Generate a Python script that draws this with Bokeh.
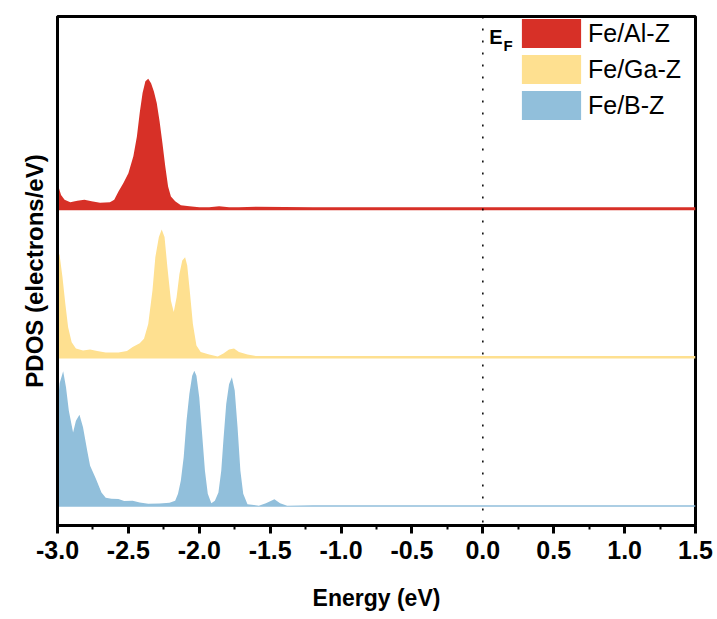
import numpy as np
from bokeh.plotting import figure
from bokeh.models import (Range1d, FixedTicker, NumeralTickFormatter, Span, Legend,
                          LegendItem, Label, ColumnDataSource)
from bokeh.embed import file_html
from bokeh.resources import INLINE

# ---- data ----
SERIES = ["Fe/Al-Z", "Fe/Ga-Z", "Fe/B-Z"]

AL_E = [-3.00, -2.99, -2.975, -2.95, -2.91, -2.86, -2.81, -2.76, -2.70, -2.63, -2.60, -2.57,
        -2.535, -2.50, -2.465, -2.44, -2.42, -2.40, -2.38, -2.36, -2.34, -2.32, -2.30, -2.28,
        -2.26, -2.24, -2.22, -2.20, -2.17, -2.13, -2.07, -2.00, -1.93, -1.86, -1.79, -1.72,
        -1.60, -1.2, -0.6, 0.0, 0.5, 1.0, 1.5]
AL_V = [0.58, 0.45, 0.31, 0.21, 0.16, 0.19, 0.21, 0.18, 0.15, 0.16, 0.21, 0.38,
        0.55, 0.75, 1.09, 1.49, 1.97, 2.37, 2.61, 2.66, 2.57, 2.40, 2.17, 1.80,
        1.36, 0.89, 0.48, 0.28, 0.18, 0.10, 0.08, 0.06, 0.06, 0.08, 0.06, 0.06,
        0.07, 0.06, 0.06, 0.06, 0.06, 0.06, 0.06]

GA_E = [-3.00, -2.985, -2.965, -2.945, -2.925, -2.90, -2.87, -2.82, -2.77, -2.72, -2.66, -2.57,
        -2.51, -2.47, -2.42, -2.39, -2.36, -2.33, -2.31, -2.285, -2.265, -2.245, -2.225, -2.20,
        -2.18, -2.16, -2.14, -2.12, -2.10, -2.085, -2.065, -2.045, -2.02, -1.99, -1.93, -1.87,
        -1.83, -1.79, -1.755, -1.72, -1.66, -1.60, -1.2, -0.6, 0.0, 0.5, 1.0, 1.5]
GA_V = [2.19, 2.09, 1.65, 1.11, 0.63, 0.33, 0.20, 0.16, 0.18, 0.15, 0.12, 0.12,
        0.15, 0.23, 0.31, 0.40, 0.70, 1.38, 2.05, 2.46, 2.61, 2.46, 1.85, 1.17,
        0.94, 1.24, 1.71, 1.98, 2.05, 1.88, 1.31, 0.70, 0.26, 0.13, 0.08, 0.04,
        0.10, 0.18, 0.20, 0.13, 0.08, 0.05, 0.05, 0.05, 0.05, 0.05, 0.05, 0.05]

B_E = [-3.00, -2.985, -2.96, -2.94, -2.92, -2.89, -2.87, -2.845, -2.82, -2.79, -2.77, -2.73,
       -2.69, -2.66, -2.62, -2.57, -2.53, -2.47, -2.42, -2.36, -2.28, -2.21, -2.17, -2.15,
       -2.13, -2.11, -2.09, -2.07, -2.05, -2.035, -2.02, -2.00, -1.98, -1.96, -1.94, -1.915,
       -1.89, -1.865, -1.845, -1.83, -1.81, -1.79, -1.77, -1.75, -1.73, -1.71, -1.69, -1.66,
       -1.58, -1.53, -1.47, -1.43, -1.38, -1.2, -0.8, -0.4, 0.0, 0.5, 1.0, 1.5]
B_V = [2.0, 2.5, 2.74, 2.42, 1.94, 1.50, 1.74, 1.86, 1.61, 1.13, 0.83, 0.57,
       0.29, 0.18, 0.16, 0.155, 0.115, 0.12, 0.087, 0.06, 0.067, 0.08, 0.12, 0.26,
       0.53, 1.0, 1.74, 2.28, 2.65, 2.75, 2.65, 2.21, 1.47, 0.73, 0.26, 0.07,
       0.12, 0.29, 0.73, 1.34, 2.08, 2.48, 2.62, 2.35, 1.61, 0.73, 0.26, 0.05,
       0.02, 0.07, 0.15, 0.07, 0.02, 0.03, 0.03, 0.03, 0.03, 0.03, 0.03, 0.03]

X_TICKS = [-3.0, -2.5, -2.0, -1.5, -1.0, -0.5, 0.0, 0.5, 1.0, 1.5]
X_MINOR = [-2.75, -2.25, -1.75, -1.25, -0.75, -0.25, 0.25, 0.75, 1.25]

# ---- styling / layout ----
OFFSETS = {"Fe/Al-Z": 6.0, "Fe/Ga-Z": 3.0, "Fe/B-Z": 0.0}
COLORS = {"Fe/Al-Z": "#d73027", "Fe/Ga-Z": "#fee090", "Fe/B-Z": "#91bfdb"}
DATA = {"Fe/Al-Z": (AL_E, AL_V), "Fe/Ga-Z": (GA_E, GA_V), "Fe/B-Z": (B_E, B_V)}

FONT = "Liberation Sans"

p = figure(frame_width=638, frame_height=509,
           min_border_left=57, min_border_right=22, min_border_top=16, min_border_bottom=94,
           x_range=Range1d(-3.0, 1.5), y_range=Range1d(-0.38, 9.92),
           output_backend="svg", toolbar_location=None)
p.xgrid.visible = False
p.ygrid.visible = False
p.outline_line_color = "black"
p.outline_line_width = 3
p.outline_line_alpha = 1.0
p.background_fill_color = "white"
p.border_fill_color = "white"

renderers = {}
for name in ["Fe/B-Z", "Fe/Ga-Z", "Fe/Al-Z"]:
    e, v = DATA[name]
    off = OFFSETS[name]
    src = ColumnDataSource(dict(x=e, y1=[off] * len(e), y2=[off + val for val in v]))
    renderers[name] = p.varea(x="x", y1="y1", y2="y2", source=src, fill_color=COLORS[name])

p.add_layout(Span(location=0.0, dimension="height", line_color="black",
                  line_dash="2 10", line_width=1.5))

# x axis
xa = p.xaxis[0]
xa.ticker = FixedTicker(ticks=X_TICKS, minor_ticks=X_MINOR)
xa.formatter = NumeralTickFormatter(format="0.0")
xa.axis_line_width = 3
xa.major_tick_line_width = 3
xa.minor_tick_line_width = 2
xa.major_tick_out = 8
xa.major_tick_in = 0
xa.minor_tick_out = 4
xa.minor_tick_in = 0
xa.major_label_text_font = FONT
xa.major_label_text_font_style = "bold"
xa.major_label_text_font_size = "25px"
xa.major_label_text_color = "black"
xa.major_label_standoff = 7
xa.axis_label = "Energy (eV)"
xa.axis_label_text_font = FONT
xa.axis_label_text_font_style = "bold"
xa.axis_label_text_font_size = "23px"
xa.axis_label_text_color = "black"
xa.axis_label_standoff = 23

# y axis
ya = p.yaxis[0]
ya.ticker = FixedTicker(ticks=[])
ya.major_label_text_font_size = "0px"
ya.major_tick_out = 0
ya.minor_tick_out = 0
ya.axis_line_width = 3
ya.axis_label = "PDOS (electrons/eV)"
ya.axis_label_text_font = FONT
ya.axis_label_text_font_style = "bold"
ya.axis_label_text_font_size = "24px"
ya.axis_label_text_color = "black"
ya.axis_label_standoff = 10

legend = Legend(items=[LegendItem(label=n, renderers=[renderers[n]]) for n in SERIES],
                location=(457, 402), glyph_width=74, glyph_height=36, label_height=36,
                spacing=-3, padding=0, margin=0, label_standoff=0,
                label_text_font=FONT, label_text_font_size="25px",
                label_text_color="black",
                border_line_alpha=0, background_fill_alpha=0)
p.add_layout(legend)

p.add_layout(Label(x=0.046, y=9.51, text="E", text_font=FONT,
                   text_font_style="bold", text_font_size="20px", text_color="black",
                   text_baseline="alphabetic"))
p.add_layout(Label(x=0.145, y=9.33, text="F", text_font=FONT,
                   text_font_style="bold", text_font_size="15px", text_color="black",
                   text_baseline="alphabetic"))

open("out.html", "w").write(file_html(p, INLINE))
